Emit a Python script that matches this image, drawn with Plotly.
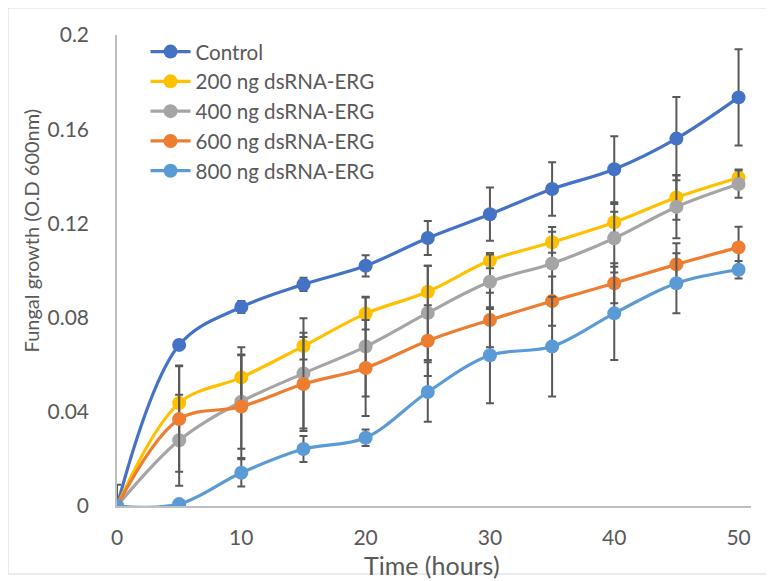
import plotly.graph_objects as go

time_h = [0, 5, 10, 15, 20, 25, 30, 35, 40, 45, 50]

series_names = ["Control", "200 ng dsRNA-ERG", "400 ng dsRNA-ERG",
                "600 ng dsRNA-ERG", "800 ng dsRNA-ERG"]

control = [0, 0.0684, 0.0845, 0.0941, 0.1020, 0.1138, 0.1239, 0.1346, 0.1430, 0.1560, 0.1735]
ng200 = [0, 0.0437, 0.0546, 0.0679, 0.0817, 0.0910, 0.1042, 0.1120, 0.1205, 0.1310, 0.1394]
ng400 = [0, 0.0279, 0.0443, 0.0563, 0.0677, 0.0820, 0.0952, 0.1030, 0.1137, 0.1270, 0.1367]
ng600 = [0, 0.0369, 0.0422, 0.0518, 0.0586, 0.0702, 0.0790, 0.0870, 0.0946, 0.1026, 0.1098]
ng800 = [0, 0.0008, 0.0141, 0.0242, 0.0290, 0.0484, 0.0640, 0.0677, 0.0818, 0.0946, 0.1003]

control_err = [0.009, 0.001, 0.0025, 0.0028, 0.0045, 0.0072, 0.0113, 0.0114, 0.0140, 0.0177, 0.0204]
ng200_err = [0, 0.016, 0.0128, 0.0057, 0.0068, 0.0110, 0.0032, 0.0045, 0.0045, 0.0095, 0.0035]
ng400_err = [0, 0.0193, 0.0200, 0.0234, 0.0212, 0.0200, 0.0116, 0.0155, 0.0145, 0.0133, 0.0058]
ng600_err = [0, 0.0224, 0.0218, 0.0200, 0.0204, 0.0150, 0.0116, 0.0105, 0.0085, 0.0090, 0.0088]
ng800_err = [0, 0.001, 0.0058, 0.0055, 0.0035, 0.0126, 0.0204, 0.0212, 0.0198, 0.0127, 0.0037]

colors = ["#4472C4", "#FFC000", "#A5A5A5", "#ED7D31", "#5B9BD5"]

values = [control, ng200, ng400, ng600, ng800]
errors = [control_err, ng200_err, ng400_err, ng600_err, ng800_err]

FONT = "Lato, 'Open Sans', sans-serif"
TXT = "#595959"

fig = go.Figure()
for name, y, e, c in zip(series_names, values, errors, colors):
    fig.add_trace(go.Scatter(
        x=time_h, y=y, name=name, mode="lines+markers",
        line=dict(color=c, width=3.2, shape="spline", smoothing=1),
        marker=dict(color=c, size=14),
        error_y=dict(type="data", array=e, visible=True, color="#595959",
                     thickness=2, width=4),
    ))

# page has an 8px body margin; plot area: left 109, top 27 (figure coords)
fig.update_layout(
    width=766, height=573,
    margin=dict(l=109, r=23, t=27, b=75),
    paper_bgcolor="white", plot_bgcolor="white",
    font=dict(family=FONT, size=21, color=TXT),
    showlegend=True,
    legend=dict(x=0.045, y=1.007, xanchor="left", yanchor="top",
                bgcolor="rgba(0,0,0,0)", font=dict(size=20.6, color=TXT),
                itemwidth=40, tracegroupgap=0),
    xaxis=dict(range=[0, 51], tickvals=[0, 10, 20, 30, 40, 50],
               showgrid=False, zeroline=False, showline=True,
               linecolor="#BFBFBF", linewidth=1.5, ticks="",
               ticklabelstandoff=12, tickfont=dict(size=21, color=TXT)),
    yaxis=dict(range=[0, 0.2], tickvals=[0, 0.04, 0.08, 0.12, 0.16, 0.2],
               ticktext=["0", "0.04", "0.08", "0.12", "0.16", "0.2"],
               showgrid=False, zeroline=False, showline=True,
               linecolor="#BFBFBF", linewidth=1.5, ticks="",
               ticklabelstandoff=22, tickfont=dict(size=21, color=TXT)),
    annotations=[
        dict(text="Time (hours)", xref="paper", yref="paper",
             x=0.497, y=-0.125, xanchor="center", yanchor="middle",
             showarrow=False, font=dict(size=25, color=TXT, family=FONT)),
        dict(text="Fungal growth (O.D 600nm)", xref="paper", yref="paper",
             x=-0.135, y=0.586, xanchor="center", yanchor="middle",
             textangle=-90, showarrow=False,
             font=dict(size=20, color=TXT, family=FONT)),
    ],
    shapes=[dict(type="rect", xref="paper", yref="paper",
                 x0=-0.1719, x1=1.025, y0=-0.1444, y1=1.0573,
                 line=dict(color="#D9D9D9", width=1), fillcolor="rgba(0,0,0,0)")],
)

fig.write_html("out.html")
